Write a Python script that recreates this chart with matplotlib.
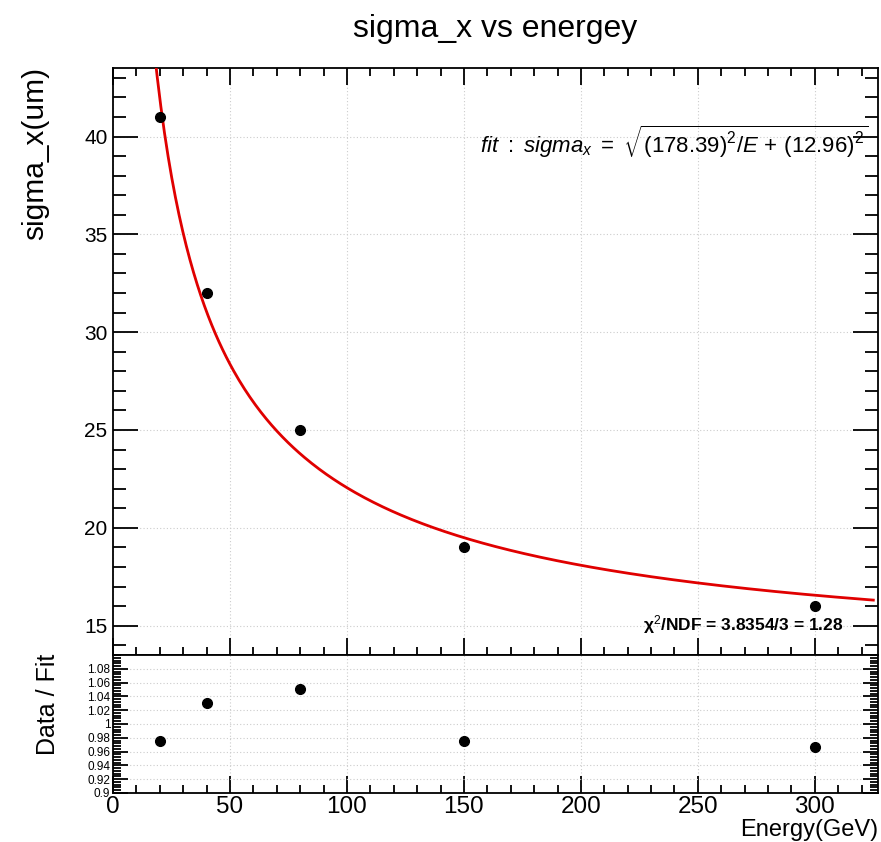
import matplotlib
matplotlib.use("Agg")
import matplotlib.pyplot as plt
import numpy as np
from matplotlib.ticker import MultipleLocator

plt.rcParams['font.family'] = ['Liberation Sans', 'DejaVu Sans']
plt.rcParams['mathtext.fontset'] = 'custom'
plt.rcParams['mathtext.rm'] = 'Liberation Sans'
plt.rcParams['mathtext.it'] = 'Liberation Sans:italic'
plt.rcParams['mathtext.bf'] = 'Liberation Sans:bold'

# data
energy = [20, 40, 80, 150, 300]
sigma_x = [41.0, 32.0, 25.0, 19.0, 16.0]
ratio = [0.976, 1.030, 1.050, 0.975, 0.966]

# fit parameters: sigma = sqrt(a^2/E + b^2)
fit_a = 178.39
fit_b = 12.96
fit_range = (15, 325)

fig = plt.figure(figsize=(8.81, 8.42), dpi=100)
ax = fig.add_axes([0.1283, 0.2221, 0.8683, 0.6971])
axr = fig.add_axes([0.1283, 0.0582, 0.8683, 0.1639])

grid_kw = dict(color='#cccccc', linestyle=(0, (1, 2)), linewidth=0.8)

# top panel
e_fit = np.linspace(fit_range[0], fit_range[1], 400)
ax.plot(e_fit, np.sqrt(fit_a**2 / e_fit + fit_b**2), color='#e00000', lw=2, zorder=3)
ax.plot(energy, sigma_x, 'o', color='black', ms=7, zorder=4)
ax.set_xlim(0, 327)
ax.set_ylim(13.5, 43.5)
ax.xaxis.set_major_locator(MultipleLocator(50))
ax.xaxis.set_minor_locator(MultipleLocator(10))
ax.yaxis.set_major_locator(MultipleLocator(5))
ax.yaxis.set_minor_locator(MultipleLocator(1))
ax.grid(True, which='major', **grid_kw)
ax.tick_params(which='both', direction='in', top=True, right=True, width=1.3)
ax.tick_params(which='major', length=18, labelsize=15, pad=4)
ax.tick_params(which='minor', length=9.5)
ax.tick_params(axis='x', which='major', length=12)
ax.tick_params(axis='x', which='minor', length=6)
ax.tick_params(axis='x', labelbottom=False)
for s in ax.spines.values():
    s.set_linewidth(1.3)

ax.text(0.987, 0.875,
        r'$fit\ :\ sigma_{x}\ =\ \sqrt{(178.39)^{2}/E\,+\,(12.96)^{2}}$',
        transform=ax.transAxes, ha='right', va='center', fontsize=16)
ax.text(0.955, 0.052, r'$\mathbf{\chi}^{2}$/NDF = 3.8354/3 = 1.28',
        transform=ax.transAxes, ha='right', va='center', fontsize=12.5, fontweight='bold')

# ratio panel
axr.plot(energy, ratio, 'o', color='black', ms=7)
axr.set_xlim(0, 327)
axr.set_ylim(0.9, 1.1)
axr.xaxis.set_major_locator(MultipleLocator(50))
axr.xaxis.set_minor_locator(MultipleLocator(10))
axr.set_yticks(np.arange(0.9, 1.09, 0.02))
axr.set_yticklabels(['0.9', '0.92', '0.94', '0.96', '0.98', '1',
                     '1.02', '1.04', '1.06', '1.08'])
axr.yaxis.set_minor_locator(MultipleLocator(0.004))
axr.grid(True, which='major', **grid_kw)
axr.tick_params(which='both', direction='in', right=True, width=1.3)
axr.tick_params(axis='y', which='major', length=11, labelsize=8.5, pad=2)
axr.tick_params(axis='y', which='minor', length=5.5)
axr.tick_params(axis='x', which='major', length=12, labelsize=17.5, pad=2.5)
axr.tick_params(axis='x', which='minor', length=6)
for s in axr.spines.values():
    s.set_linewidth(1.3)

# titles and labels
fig.text(0.562, 0.966, 'sigma_x vs energey', ha='center', va='center', fontsize=23)
fig.text(0.040, 0.921, 'sigma_x(um)', rotation=90, ha='center', va='top', fontsize=21.5)
fig.text(0.055, 0.224, 'Data / Fit', rotation=90, ha='center', va='top', fontsize=18)
fig.text(0.997, 0.0075, 'Energy(GeV)', ha='right', va='baseline', fontsize=17)

fig.savefig('out.png', dpi=100)
